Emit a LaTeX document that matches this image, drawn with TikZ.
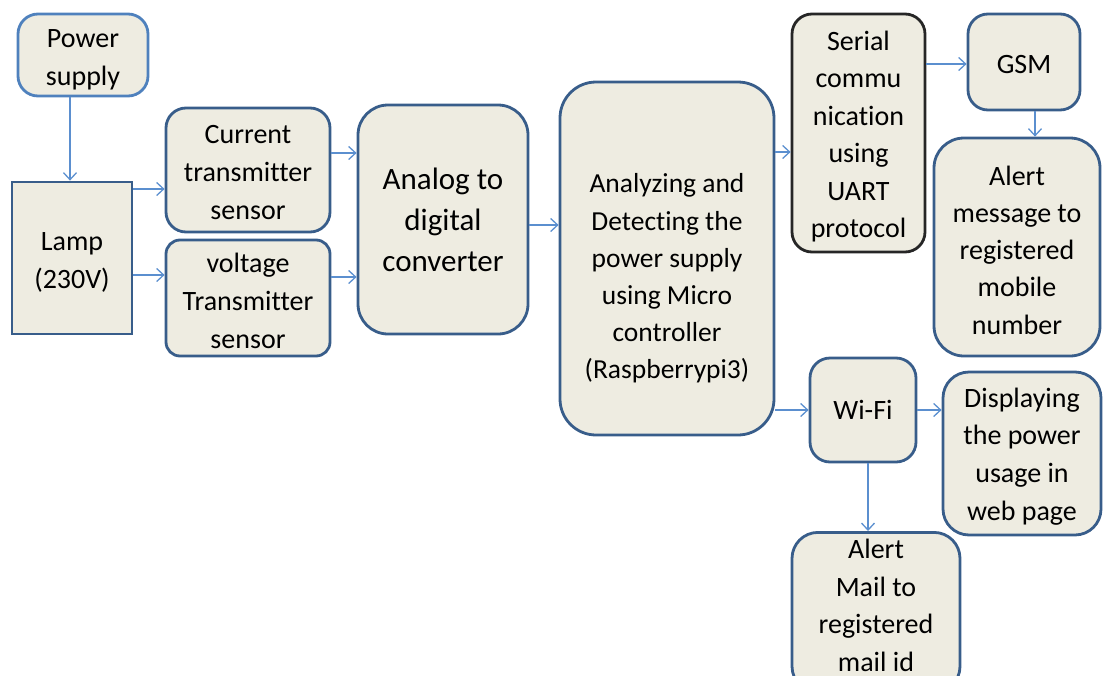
\documentclass[tikz,border=0pt]{standalone}
\usepackage{fontspec}
\setmainfont{Carlito}[Ligatures=NoCommon]
\usetikzlibrary{arrows.meta}
\definecolor{boxfill}{HTML}{EEECE1}
\definecolor{darkedge}{HTML}{385D8A}
\definecolor{lightedge}{HTML}{4F81BD}
\definecolor{blackedge}{HTML}{262626}
\definecolor{arrowcol}{HTML}{5B8FCF}
\tikzset{
  blk/.style={draw=darkedge, line width=2.8pt, fill=boxfill, rounded corners=20pt, inner sep=0pt},
  txt/.style={align=center, inner sep=0pt, font=\fontsize{28}{38}\selectfont},
  arr/.style={draw=arrowcol, line width=1.4pt, -{Straight Barb[length=7pt,width=13pt,line width=1.3pt]}},
}
\begin{document}
\begin{tikzpicture}[x=1pt,y=-1pt]
\useasboundingbox (0,0) rectangle (1103,675);
\clip (0,0) rectangle (1103,675);

% input side
\node[blk, draw=lightedge, minimum width=130pt, minimum height=82pt] (ps) at (83,55) {};
\node[txt] (ps-t) at ([yshift=-5pt]ps.center) {Power\\supply};
\node[blk, rounded corners=0pt, minimum width=120pt, minimum height=152pt] (lamp) at (72,258) {};
\node[txt] (lamp-t) at ([yshift=-4pt]lamp.center) {Lamp\\(230V)};
\node[blk, minimum width=164pt, minimum height=124pt] (cur) at (248,170) {};
\node[txt] (cur-t) at ([yshift=-3pt]cur.center) {Current\\transmitter\\sensor};
\node[blk, minimum width=164pt, minimum height=116pt, rounded corners=14pt] (volt) at (248,298) {};
\node[txt] (volt-t) at ([yshift=-3pt]volt.center) {voltage\\Transmitter\\sensor};
\node[blk, minimum width=170pt, minimum height=229pt, rounded corners=30pt] (adc) at (443,219.5) {};
\node[txt, font=\fontsize{31}{41}\selectfont] (adc-t) at (adc.center) {Analog to\\digital\\converter};

% controller
\node[blk, minimum width=214pt, minimum height=353pt, rounded corners=36pt] (ana) at (667,258.5) {};
\node[txt, font=\fontsize{27.5}{37.2}\selectfont] (ana-t) at ([yshift=-20pt]ana.center)
  {Analyzing and\\Detecting the\\power supply\\using Micro\\controller\\(Raspberrypi3)};

% output side
\node[blk, draw=blackedge, minimum width=133pt, minimum height=238pt] (ser) at (858.5,133) {};
\node[txt, font=\fontsize{28}{37.4}\selectfont] (ser-t) at ([yshift=-3.5pt]ser.center) {Serial\\commu\\nication\\using\\UART\\protocol};
\node[blk, minimum width=112pt, minimum height=96pt] (gsm) at (1024,62) {};
\node[txt] (gsm-t) at ([yshift=-3pt]gsm.center) {GSM};
\node[blk, minimum width=166pt, minimum height=218pt, rounded corners=30pt] (am) at (1017,247) {};
\node[txt, font=\fontsize{28}{37.3}\selectfont] (am-t) at ([yshift=-3pt]am.center) {Alert\\message to\\registered\\mobile\\number};
\node[blk, minimum width=106pt, minimum height=104pt] (wifi) at (863,410) {};
\node[txt] (wifi-t) at (wifi.center) {Wi-Fi};
\node[blk, minimum width=158pt, minimum height=163pt, rounded corners=26pt] (disp) at (1022,453.5) {};
\node[txt, font=\fontsize{28}{37.7}\selectfont] (disp-t) at ([yshift=-3pt]disp.center) {Displaying\\the power\\usage in\\web page};
\node[blk, minimum width=168pt, minimum height=160pt, rounded corners=26pt, anchor=north] (mail) at (876,531) {};
\node[txt, font=\fontsize{28}{37.7}\selectfont] (mail-t) at ([yshift=7pt]mail.center) {Alert\\Mail to\\registered\\mail id};

% connectors
\draw[arr] (ps.south -| 70,0) -- (lamp.north -| 70,0);
\draw[arr] (lamp.east |- 0,189) -- (cur.west |- 0,189);
\draw[arr] (lamp.east |- 0,275) -- (volt.west |- 0,275);
\draw[arr] (cur.east |- 0,153) -- (adc.west |- 0,153);
\draw[arr] (volt.east |- 0,277) -- (adc.west |- 0,277);
\draw[arr] (adc.east |- 0,225) -- (ana.west |- 0,225);
\draw[arr] (ana.east |- 0,152) -- (ser.west |- 0,152);
\draw[arr] (ana.east |- 0,410) -- (wifi.west |- 0,410);
\draw[arr] (ser.east |- 0,64) -- (gsm.west |- 0,64);
\draw[arr] (gsm.south -| 1035,0) -- (am.north -| 1035,0);
\draw[arr] (wifi.east |- 0,410) -- (disp.west |- 0,410);
\draw[arr] (wifi.south -| 868,0) -- (mail.north -| 868,0);
\end{tikzpicture}
\end{document}
